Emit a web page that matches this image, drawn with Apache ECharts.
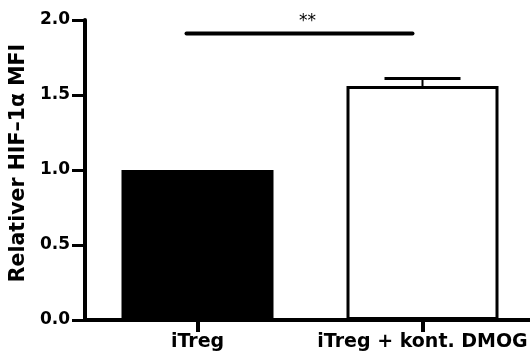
<!DOCTYPE html>
<html>
<head>
<meta charset="utf-8">
<script src="https://cdn.jsdelivr.net/npm/echarts@6/dist/echarts.min.js"></script>
<style>
  html, body { margin: 0; padding: 0; background: #fff; }
  #chart { width: 530px; height: 358px; }
</style>
</head>
<body>
<div id="chart"></div>
<script>
const categories = ['iTreg', 'iTreg + kont. DMOG'];
const values = [1.0, 1.56];
const errors = [0, 0.05];
const yMin = 0, yMax = 2, yInterval = 0.5;
const yTitle = 'Relativer HIF\u20131\u03b1 MFI';
const sigFrom = 0, sigTo = 1, sigLevel = 1.91, sigText = '**';

const FONT = 'DejaVu Sans';
const chart = echarts.init(document.getElementById('chart'), null, { renderer: 'canvas' });

const option = {
  animation: false,
  backgroundColor: '#fff',
  grid: { left: 85, top: 20, width: 450, height: 300, containLabel: false, outerBoundsMode: 'none' },
  xAxis: {
    type: 'category',
    data: categories,
    boundaryGap: true,
    axisLine: { lineStyle: { color: '#000', width: 4 } },
    axisTick: { show: true, interval: 0, alignWithLabel: true, length: 12, lineStyle: { color: '#000', width: 4 } },
    axisLabel: { interval: 0, hideOverlap: false, color: '#000', fontFamily: FONT, fontWeight: 'bold', fontSize: 19, margin: 13 },
    splitLine: { show: false }
  },
  yAxis: {
    type: 'value',
    min: yMin, max: yMax, interval: yInterval,
    name: yTitle,
    nameLocation: 'middle',
    nameGap: 43,
    nameTextStyle: { color: '#000', fontFamily: FONT, fontWeight: 'bold', fontSize: 20.5, padding: [0, 0, 0, 14] },
    axisLine: { show: true, lineStyle: { color: '#000', width: 4 } },
    axisTick: { show: true, length: 13, lineStyle: { color: '#000', width: 3 } },
    axisLabel: { color: '#000', fontFamily: FONT, fontWeight: 'bold', fontSize: 17, margin: 15,
      formatter: v => v.toFixed(1) },
    splitLine: { show: false }
  },
  series: [
    {
      type: 'bar',
      barWidth: 152,
      data: values.map((v, i) => ({
        value: v,
        itemStyle: i === 0
          ? { color: '#000', borderColor: '#000', borderWidth: 0 }
          : { color: '#fff', borderColor: '#000', borderWidth: 3 }
      })),
      z: 2
    },
    {
      type: 'custom',
      z: 3,
      data: values.map((v, i) => [i, v, errors[i]]),
      renderItem: function (params, api) {
        const err = api.value(2);
        if (!err) return null;
        const i = api.value(0), v = api.value(1);
        const base = api.coord([i, v]);
        const top = api.coord([i, v + err]);
        return {
          type: 'group',
          children: [
            { type: 'line', shape: { x1: base[0], y1: base[1], x2: top[0], y2: top[1] },
              style: { stroke: '#000', lineWidth: 2 } },
            { type: 'line', shape: { x1: top[0] - 38, y1: top[1], x2: top[0] + 38, y2: top[1] },
              style: { stroke: '#000', lineWidth: 3 } }
          ]
        };
      }
    },
    {
      type: 'custom',
      z: 4,
      data: [[sigFrom, sigTo, sigLevel]],
      renderItem: function (params, api) {
        const a = api.coord([api.value(0), api.value(2)]);
        const b = api.coord([api.value(1), api.value(2)]);
        const x1 = a[0] - 11, x2 = b[0] - 10;
        return {
          type: 'group',
          children: [
            { type: 'line', shape: { x1: x1, y1: a[1], x2: x2, y2: b[1] },
              style: { stroke: '#000', lineWidth: 4, lineCap: 'round' } },
            { type: 'text', style: { text: sigText, x: (x1 + x2) / 2 + 8, y: a[1] - 3,
              align: 'center', verticalAlign: 'bottom', fill: '#000',
              font: '17px "DejaVu Sans"' } }
          ]
        };
      }
    }
  ]
};
chart.setOption(option);
</script>
</body>
</html>
